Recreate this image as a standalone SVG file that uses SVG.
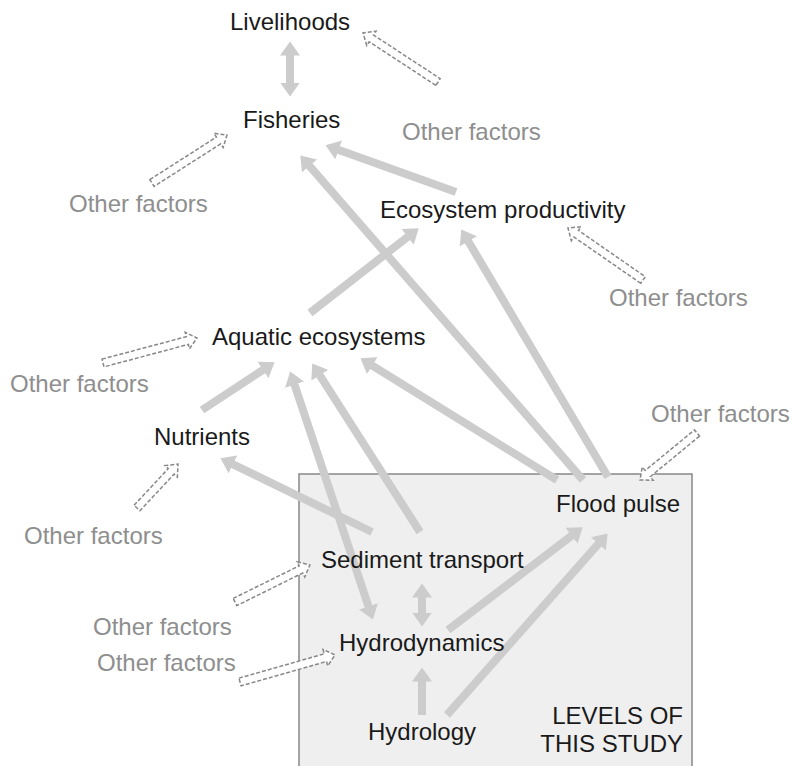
<svg xmlns="http://www.w3.org/2000/svg" width="793" height="766" viewBox="0 0 793 766">
<style>
text{font-family:"Liberation Sans",Arial,sans-serif;font-size:24px}
.n{fill:#1a1a1a}
.o{fill:#8e8e8e}
.c line{stroke:#cccccc;stroke-width:8;fill:none}
.d path{fill:#ffffff;stroke:#888888;stroke-width:1.5;stroke-dasharray:4 2}
</style>
<defs>
<marker id="ah" viewBox="0 0 14 20" markerWidth="14" markerHeight="20" markerUnits="userSpaceOnUse" refX="0.5" refY="10" orient="auto-start-reverse">
<path d="M0,0 L14,10 L0,20 Z" fill="#cccccc"/>
</marker>
</defs>
<rect id="study-box" x="299" y="474" width="393" height="300" fill="#efefef" stroke="#888888" stroke-width="1.5"/>
<g id="connectors" class="c">
<line x1="290" y1="55" x2="290" y2="83" marker-start="url(#ah)" marker-end="url(#ah)"/>
<line x1="456" y1="192" x2="338.2" y2="149.7" marker-end="url(#ah)"/>
<line x1="583" y1="480" x2="309.2" y2="165.6" marker-end="url(#ah)"/>
<line x1="608" y1="477" x2="468.1" y2="241" marker-end="url(#ah)"/>
<line x1="310" y1="313" x2="408" y2="236.6" marker-end="url(#ah)"/>
<line x1="202" y1="410" x2="263.3" y2="369.7" marker-end="url(#ah)"/>
<line x1="294.4" y1="384.3" x2="368.6" y2="606.7" marker-start="url(#ah)" marker-end="url(#ah)"/>
<line x1="420" y1="532" x2="319.5" y2="374.8" marker-end="url(#ah)"/>
<line x1="372" y1="532" x2="232.6" y2="464.1" marker-end="url(#ah)"/>
<line x1="557" y1="480" x2="371.9" y2="365.4" marker-end="url(#ah)"/>
<line x1="422" y1="597" x2="422" y2="613" marker-start="url(#ah)" marker-end="url(#ah)"/>
<line x1="422" y1="715" x2="422" y2="681" marker-end="url(#ah)"/>
<line x1="448" y1="630" x2="571.9" y2="535.5" marker-end="url(#ah)"/>
<line x1="447" y1="715" x2="598.7" y2="543.5" marker-end="url(#ah)"/>
</g>
<g id="other-factor-arrows" class="d">
<path transform="translate(438,82) rotate(-146.8)" d="M0,-4 L79.6,-4 L79.6,-8.5 L89.6,0 L79.6,8.5 L79.6,4 L0,4 Z"/>
<path transform="translate(152,183) rotate(-32.6)" d="M0,-4 L79,-4 L79,-8.5 L89,0 L79,8.5 L79,4 L0,4 Z"/>
<path transform="translate(643,280) rotate(-145.3)" d="M0,-4 L81.3,-4 L81.3,-8.5 L91.3,0 L81.3,8.5 L81.3,4 L0,4 Z"/>
<path transform="translate(103,363) rotate(-14.9)" d="M0,-4 L87.3,-4 L87.3,-8.5 L97.3,0 L87.3,8.5 L87.3,4 L0,4 Z"/>
<path transform="translate(697,433) rotate(140.5)" d="M0,-4 L63.9,-4 L63.9,-8.5 L73.9,0 L63.9,8.5 L63.9,4 L0,4 Z"/>
<path transform="translate(137,508) rotate(-47)" d="M0,-4 L50.1,-4 L50.1,-8.5 L60.1,0 L50.1,8.5 L50.1,4 L0,4 Z"/>
<path transform="translate(235,602) rotate(-26.3)" d="M0,-4 L73.6,-4 L73.6,-8.5 L83.6,0 L73.6,8.5 L73.6,4 L0,4 Z"/>
<path transform="translate(240,682) rotate(-15.9)" d="M0,-4 L88.8,-4 L88.8,-8.5 L98.8,0 L88.8,8.5 L88.8,4 L0,4 Z"/>
</g>
<g id="livelihoods"><text class="n" x="230" y="30">Livelihoods</text></g>
<g id="fisheries"><text class="n" x="243" y="128">Fisheries</text></g>
<g id="ecosystem-productivity"><text class="n" x="380" y="218">Ecosystem productivity</text></g>
<g id="aquatic-ecosystems"><text class="n" x="212" y="345">Aquatic ecosystems</text></g>
<g id="nutrients"><text class="n" x="154" y="445">Nutrients</text></g>
<g id="flood-pulse"><text class="n" x="556" y="512">Flood pulse</text></g>
<g id="sediment-transport"><text class="n" x="321" y="568">Sediment transport</text></g>
<g id="hydrodynamics"><text class="n" x="339" y="651">Hydrodynamics</text></g>
<g id="hydrology"><text class="n" x="368" y="740">Hydrology</text></g>
<g id="study-label"><text class="n" text-anchor="end" x="683" y="724">LEVELS OF</text><text class="n" text-anchor="end" x="683" y="752">THIS STUDY</text></g>
<g id="other-factors-1"><text class="o" x="402" y="140">Other factors</text></g>
<g id="other-factors-2"><text class="o" x="69" y="212">Other factors</text></g>
<g id="other-factors-3"><text class="o" x="609" y="306">Other factors</text></g>
<g id="other-factors-4"><text class="o" x="10" y="392">Other factors</text></g>
<g id="other-factors-5"><text class="o" x="651" y="422">Other factors</text></g>
<g id="other-factors-6"><text class="o" x="24" y="544">Other factors</text></g>
<g id="other-factors-7"><text class="o" x="93" y="635">Other factors</text></g>
<g id="other-factors-8"><text class="o" x="97" y="671">Other factors</text></g>
</svg>
